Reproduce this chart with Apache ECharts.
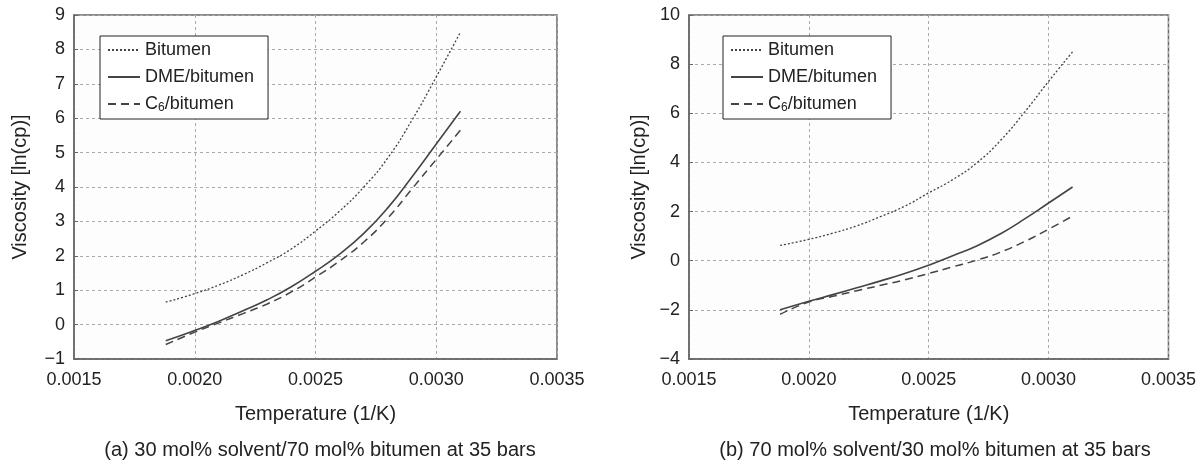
<!DOCTYPE html>
<html>
<head>
<meta charset="utf-8">
<script src="https://cdn.jsdelivr.net/npm/echarts@6/dist/echarts.min.js"></script>
<style>
html,body{margin:0;padding:0;background:#fff;}
#chart{width:1199px;height:463px;}
</style>
</head>
<body>
<div id="chart"></div>
<script>
// Inverse temperature (1/K)
const invT = [0.00188, 0.0020, 0.0021, 0.0022, 0.0023, 0.0024, 0.0025, 0.0026, 0.0027, 0.0028, 0.0029, 0.0030, 0.0031];

// (a) 30 mol% solvent / 70 mol% bitumen
const bitumenA = [0.65, 0.9, 1.15, 1.45, 1.8, 2.2, 2.72, 3.3, 4.0, 4.85, 5.95, 7.2, 8.5];
const dmeA     = [-0.47, -0.17, 0.1, 0.4, 0.72, 1.1, 1.55, 2.05, 2.65, 3.4, 4.3, 5.25, 6.2];
const c6A      = [-0.58, -0.22, 0.05, 0.32, 0.6, 0.95, 1.38, 1.85, 2.4, 3.1, 3.95, 4.8, 5.65];

// (b) 70 mol% solvent / 30 mol% bitumen
const bitumenB = [0.62, 0.87, 1.12, 1.42, 1.8, 2.22, 2.76, 3.3, 3.98, 4.9, 6.05, 7.3, 8.5];
const dmeB     = [-2.0, -1.65, -1.38, -1.1, -0.82, -0.52, -0.18, 0.2, 0.6, 1.1, 1.7, 2.35, 3.0];
const c6B      = [-2.18, -1.68, -1.45, -1.22, -1.0, -0.78, -0.52, -0.25, 0.02, 0.35, 0.78, 1.28, 1.82];

const seriesNames = ['Bitumen', 'DME/bitumen', 'C6/bitumen'];
const xTitle = 'Temperature (1/K)';
const yTitle = 'Viscosity [ln(cp)]';
const captionA = '(a) 30 mol% solvent/70 mol% bitumen at 35 bars';
const captionB = '(b) 70 mol% solvent/30 mol% bitumen at 35 bars';

const FONT = '"Liberation Sans", Arial, Helvetica, sans-serif';
const pairs = (ys) => invT.map((x, i) => [x, ys[i]]);
const minus = (v) => String(v).replace('-', '\u2212');

const styles = [
  { type: [2, 2], width: 1.3, color: '#444' },
  { type: 'solid', width: 1.6, color: '#444' },
  { type: [8, 5], width: 1.5, color: '#444' }
];

function makeSeries(idx, arrs) {
  return arrs.map((ys, i) => ({
    name: seriesNames[i],
    type: 'line',
    xAxisIndex: idx, yAxisIndex: idx,
    data: pairs(ys),
    smooth: true,
    symbol: 'none',
    lineStyle: styles[i],
    itemStyle: { color: '#444' },
    emphasis: { disabled: true },
    animation: false
  }));
}

function xAx(idx) {
  return {
    gridIndex: idx, type: 'value', min: 0.0015, max: 0.0035, interval: 0.0005,
    name: xTitle, nameLocation: 'middle', nameGap: 45,
    nameTextStyle: { fontFamily: FONT, fontSize: 20, color: '#222' },
    axisLine: { show: true, onZero: false, lineStyle: { color: '#666', width: 1.5 } },
    axisTick: { show: false },
    axisLabel: { fontFamily: FONT, fontSize: 18, color: '#222', margin: 12,
      formatter: (v) => v.toFixed(4) },
    splitLine: { show: true, lineStyle: { color: '#aaa', type: [3, 3], width: 1 } }
  };
}
function yAx(idx, min, max, interval, gap) {
  return {
    gridIndex: idx, type: 'value', min: min, max: max, interval: interval,
    name: yTitle, nameLocation: 'middle', nameGap: gap, nameRotate: 90,
    nameTextStyle: { fontFamily: FONT, fontSize: 20, color: '#222' },
    axisLine: { show: true, onZero: false, lineStyle: { color: '#666', width: 1.5 } },
    axisTick: { show: true, inside: true, length: 4, lineStyle: { color: '#666' } },
    axisLabel: { fontFamily: FONT, fontSize: 18, color: '#222', margin: 9,
      formatter: (v) => minus(v) },
    splitLine: { show: true, lineStyle: { color: '#aaa', type: [3, 3], width: 1 } }
  };
}
function legend(left) {
  return {
    data: seriesNames,
    orient: 'vertical',
    left: left, top: 36,
    backgroundColor: '#fff',
    borderColor: '#222', borderWidth: 1,
    padding: [5, 14, 5, 7],
    itemWidth: 32, itemHeight: 16, itemGap: 9,
    selectedMode: false,
    itemStyle: { opacity: 0 },
    textStyle: {
      fontFamily: FONT, fontSize: 18, color: '#222',
      rich: { sub: { fontFamily: FONT, fontSize: 12, color: '#222', padding: [8, 0, 0, 0] } }
    },
    formatter: (n) => n === 'C6/bitumen' ? 'C{sub|6}/bitumen' : n
  };
}

const chart = echarts.init(document.getElementById('chart'), null, { renderer: 'canvas' });
chart.setOption({
  animation: false,
  backgroundColor: '#fff',
  textStyle: { fontFamily: FONT },
  title: [
    { text: captionA, left: 315, top: 435, textAlign: 'center',
      textStyle: { fontFamily: FONT, fontSize: 20, fontWeight: 'normal', color: '#222' } },
    { text: captionB, left: 930, top: 435, textAlign: 'center',
      textStyle: { fontFamily: FONT, fontSize: 20, fontWeight: 'normal', color: '#222' } }
  ],
  grid: [
    { left: 74, top: 15, width: 483, height: 344, show: true, borderColor: '#666', borderWidth: 1.5, backgroundColor: '#fdfdfd' },
    { left: 689, top: 15, width: 483, height: 344, show: true, borderColor: '#666', borderWidth: 1.5, backgroundColor: '#fdfdfd' }
  ],
  legend: [legend(100), legend(723)],
  xAxis: [xAx(0), xAx(1)],
  yAxis: [yAx(0, -1, 9, 1, 44), yAx(1, -4, 10, 2, 40)],
  series: [].concat(
    makeSeries(0, [bitumenA, dmeA, c6A]),
    makeSeries(1, [bitumenB, dmeB, c6B])
  )
});
</script>
</body>
</html>
